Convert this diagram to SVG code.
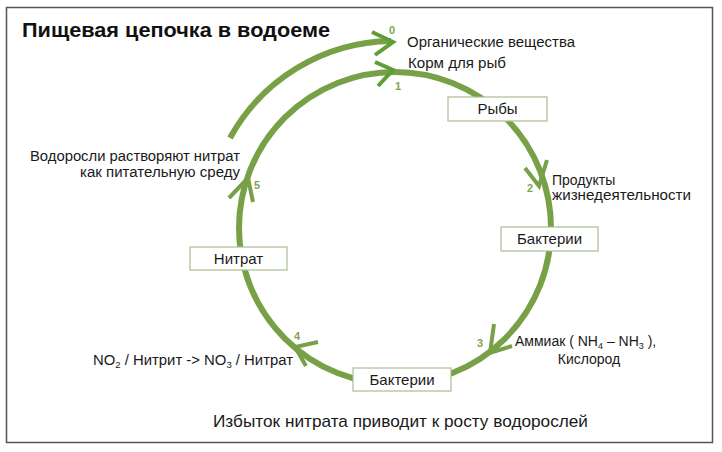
<svg xmlns="http://www.w3.org/2000/svg" width="722" height="452" viewBox="0 0 722 452">
<style>
.t{font-family:"Liberation Sans",Arial,sans-serif;fill:#1a1a1a;font-size:14px}
.b{font-family:"Liberation Sans",Arial,sans-serif;fill:#1a1a1a;font-size:15px;text-anchor:middle}
.n{font-family:"Liberation Sans",Arial,sans-serif;fill:#7ea651;font-size:11px;font-weight:bold}
.box{fill:#ffffff;stroke:#a9bf91;stroke-width:1.2}
.ring{fill:none;stroke:#78a147;stroke-width:6}
.head{fill:none;stroke:#78a147;stroke-width:4;stroke-linecap:butt}
.head0{fill:none;stroke:#5e9e36;stroke-width:4}
</style>
<rect x="0" y="0" width="722" height="452" fill="#ffffff"/>
<rect x="6.5" y="7.5" width="706" height="435" fill="none" stroke="#555" stroke-width="1.5"/>
<text x="22" y="37" font-family="Liberation Sans,Arial,sans-serif" font-weight="bold" font-size="20" fill="#111" textLength="308" lengthAdjust="spacingAndGlyphs">Пищевая цепочка в водоеме</text>
<g id="connectors">
<circle class="ring" cx="395" cy="228" r="156"/>
<path class="ring" d="M230 138 A187 187 0 0 1 391 41"/>
<path class="head0" d="M372 32 L393 42 L375 55"/>
<path class="head0" d="M375 62 L393 70 L378 86"/>
<path class="head" d="M525 168 L539 186 L547 160"/>
<path class="head" d="M494 324 L490 353 L512 346"/>
<path class="head" d="M318 342 L295 347 L306 366"/>
<path class="head" d="M229 198 L248 178 L253 202"/>
</g>
<g id="labels">
<text class="n" x="389" y="34">0</text>
<text class="n" x="395" y="90">1</text>
<text class="n" x="527" y="192">2</text>
<text class="n" x="477" y="347">3</text>
<text class="n" x="294" y="340">4</text>
<text class="n" x="254" y="189">5</text>
<text class="t" x="407" y="47" textLength="168" lengthAdjust="spacingAndGlyphs">Органические вещества</text>
<text class="t" x="408" y="68" textLength="98" lengthAdjust="spacingAndGlyphs">Корм для рыб</text>
<text class="t" x="240" y="161" text-anchor="end" textLength="210" lengthAdjust="spacingAndGlyphs">Водоросли растворяют нитрат</text>
<text class="t" x="240" y="177" text-anchor="end" textLength="160" lengthAdjust="spacingAndGlyphs">как питательную среду</text>
<text class="t" x="552" y="185">Продукты</text>
<text class="t" x="552" y="200" textLength="139" lengthAdjust="spacingAndGlyphs">жизнедеятельности</text>
<text class="t" x="515" y="346">Аммиак ( NH<tspan font-size="9" dy="3">4</tspan><tspan dy="-3"> – NH</tspan><tspan font-size="9" dy="3">3</tspan><tspan dy="-3"> ),</tspan></text>
<text class="t" x="589" y="364" text-anchor="middle">Кислород</text>
<text class="t" x="93" y="365" textLength="200" lengthAdjust="spacingAndGlyphs">NO<tspan font-size="9" dy="3">2</tspan><tspan dy="-3"> / Нитрит -&gt; NO</tspan><tspan font-size="9" dy="3">3</tspan><tspan dy="-3"> / Нитрат</tspan></text>
<text x="213" y="427" font-family="Liberation Sans,Arial,sans-serif" font-size="17" fill="#1a1a1a" textLength="375" lengthAdjust="spacingAndGlyphs">Избыток нитрата приводит к росту водорослей</text>
</g>
<g id="node-ryby"><rect class="box" x="448" y="97" width="99" height="24"/><text class="b" x="497.5" y="114">Рыбы</text></g>
<g id="node-bakterii-1"><rect class="box" x="501" y="227" width="97" height="24"/><text class="b" x="549.5" y="244">Бактерии</text></g>
<g id="node-bakterii-2"><rect class="box" x="353" y="368" width="98" height="23"/><text class="b" x="402" y="385">Бактерии</text></g>
<g id="node-nitrat"><rect class="box" x="190" y="247" width="97" height="23"/><text class="b" x="238.5" y="264">Нитрат</text></g>
</svg>
